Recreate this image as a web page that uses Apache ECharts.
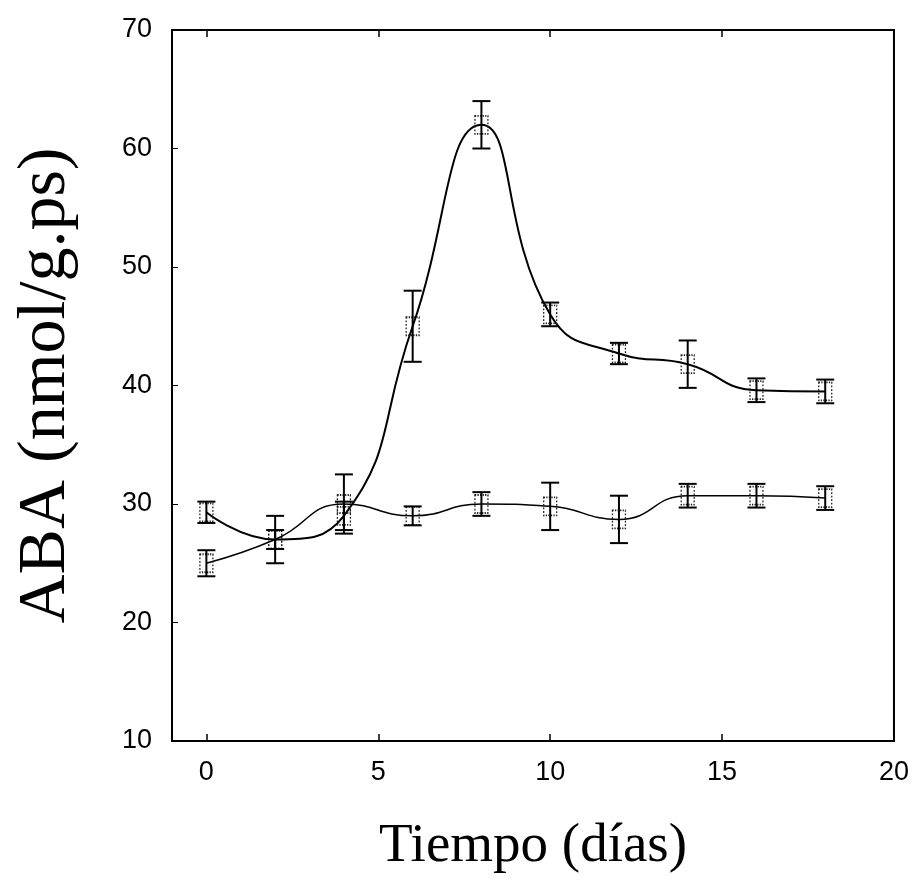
<!DOCTYPE html>
<html>
<head>
<meta charset="utf-8">
<script src="https://cdn.jsdelivr.net/npm/echarts@6/dist/echarts.min.js"></script>
<style>
  html, body { margin: 0; padding: 0; background: #fff; }
  #chart { width: 912px; height: 881px; }
</style>
</head>
<body>
<div id="chart"></div>
<script>
// días de muestreo
var dias = [0, 2, 4, 6, 8, 10, 12, 14, 16, 18];
// serie con pico
var abaA = [29.3, 27, 29, 45, 62, 46, 42.7, 41.8, 39.6, 39.5];
var errA = [0.9, 0.8, 1.2, 3, 2, 1, 0.9, 2, 1, 1];
// serie plana
var abaB = [25, 27, 30, 29, 30, 29.8, 28.7, 30.7, 30.7, 30.5];
var errB = [1.1, 2, 2.5, 0.8, 1, 2, 2, 1, 1, 1];
var xTicks = [0, 5, 10, 15, 20];
var yTicks = [10, 20, 30, 40, 50, 60, 70];

var func = function(){};

func.pares = function(xs, ys) {
    var out = [];
    for (var i = 0; i < xs.length; i++) {
        out.push([xs[i], ys[i]]);
    }
    return out;
};

func.barras = function(xs, ys, es) {
    var out = [];
    for (var i = 0; i < xs.length; i++) {
        out.push([xs[i], ys[i] - es[i], ys[i] + es[i]]);
    }
    return out;
};

// barras de error
func.renderErr = function(params, api) {
    var lo = api.coord([api.value(0), api.value(1)]);
    var hi = api.coord([api.value(0), api.value(2)]);
    var w = 9;
    var st = { stroke: '#000', lineWidth: 2 };
    return {
        type: 'group',
        children: [
            { type: 'line', shape: { x1: lo[0], y1: lo[1], x2: hi[0], y2: hi[1] }, style: st },
            { type: 'line', shape: { x1: lo[0] - w, y1: lo[1], x2: lo[0] + w, y2: lo[1] }, style: st },
            { type: 'line', shape: { x1: hi[0] - w, y1: hi[1], x2: hi[0] + w, y2: hi[1] }, style: st }
        ]
    };
};

var chart = echarts.init(document.getElementById('chart'), null, { renderer: 'canvas' });

var marca = {
    color: 'transparent',
    borderColor: '#222',
    borderWidth: 1.5,
    borderType: 'dotted'
};

var opt = {
    backgroundColor: '#fff',
    animation: false,
    grid: {
        left: 172,
        right: 15,
        top: 30,
        bottom: 140,
        show: true,
        borderColor: '#000',
        borderWidth: 2,
        backgroundColor: 'transparent'
    },
    xAxis: [
        {
            type: 'value',
            min: -1,
            max: 20,
            name: 'Tiempo (días)',
            nameLocation: 'middle',
            nameGap: 78,
            nameTextStyle: {
                fontFamily: 'Liberation Serif',
                fontSize: 55,
                color: '#000'
            },
            axisLine: { show: true, onZero: false, lineStyle: { color: '#000', width: 2 } },
            axisTick: {
                show: true,
                inside: true,
                length: 7,
                customValues: [0, 5, 10, 15],
                lineStyle: { color: '#000', width: 1.5 }
            },
            axisLabel: {
                customValues: xTicks,
                margin: 18,
                fontFamily: 'Liberation Sans',
                fontSize: 27,
                color: '#000'
            },
            splitLine: { show: false }
        },
        {
            type: 'value',
            position: 'top',
            min: -1,
            max: 20,
            axisLine: { show: true, onZero: false, lineStyle: { color: '#000', width: 2 } },
            axisTick: {
                show: true,
                inside: true,
                length: 7,
                customValues: [0, 5, 10, 15],
                lineStyle: { color: '#000', width: 1.5 }
            },
            axisLabel: { show: false },
            splitLine: { show: false }
        }
    ],
    yAxis: {
        type: 'value',
        min: 10,
        max: 70,
        interval: 10,
        name: 'ABA (nmol/g.ps)',
        nameLocation: 'middle',
        nameGap: 92,
        nameTextStyle: {
            fontFamily: 'Liberation Serif',
            fontSize: 68,
            color: '#000'
        },
        axisLine: { show: true, onZero: false, lineStyle: { color: '#000', width: 2 } },
        axisTick: {
            show: true,
            inside: true,
            length: 6,
            customValues: [20, 30, 40, 50, 60],
            lineStyle: { color: '#000', width: 1 }
        },
        axisLabel: {
            customValues: yTicks,
            margin: 20,
            fontFamily: 'Liberation Sans',
            fontSize: 27,
            color: '#000'
        },
        splitLine: { show: false }
    },
    series: [
        {
            name: 'A',
            type: 'line',
            smooth: 0.5,
            data: func.pares(dias, abaA),
            symbol: 'rect',
            symbolSize: [13, 18],
            itemStyle: marca,
            lineStyle: { color: '#000', width: 2 },
            z: 3
        },
        {
            name: 'B',
            type: 'line',
            smooth: 0.5,
            data: func.pares(dias, abaB),
            symbol: 'rect',
            symbolSize: [13, 18],
            itemStyle: marca,
            lineStyle: { color: '#000', width: 1.5 },
            z: 3
        },
        {
            type: 'custom',
            renderItem: func.renderErr,
            data: func.barras(dias, abaA, errA),
            encode: { x: 0, y: [1, 2] },
            z: 4
        },
        {
            type: 'custom',
            renderItem: func.renderErr,
            data: func.barras(dias, abaB, errB),
            encode: { x: 0, y: [1, 2] },
            z: 4
        }
    ]
};

chart.setOption(opt);
</script>
</body>
</html>
